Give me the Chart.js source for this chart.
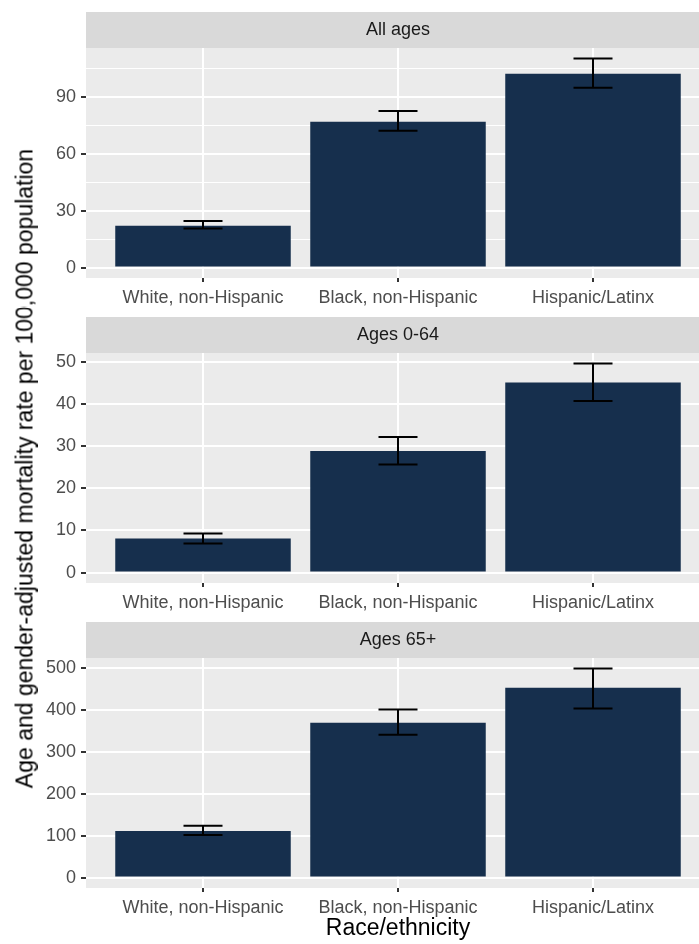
<!DOCTYPE html>
<html lang="en">
<head>
  <meta charset="UTF-8" />
  <title>Mortality rate by race/ethnicity</title>
  <script src="https://cdn.jsdelivr.net/npm/chart.js"></script>
  <style>
    html, body {
      margin: 0;
      padding: 0;
      width: 699px;
      height: 944px;
      overflow: hidden;
      background: #ffffff;
      font-family: 'Liberation Sans', Arial, sans-serif;
    }
    .panel {
      position: absolute;
      left: 0;
      width: 710px;
    }
    #ytitle {
      position: absolute;
      left: -325px;
      top: 457px;
      width: 700px;
      height: 23px;
      line-height: 23px;
      font-size: 23px;
      text-align: center;
      color: #000;
      white-space: nowrap;
      transform: rotate(-90deg);
    }
  </style>
</head>
<body>
  <div class="panel" style="top:12px;height:298px"><canvas id="c1"></canvas></div>
  <div class="panel" style="top:317px;height:298px"><canvas id="c2"></canvas></div>
  <div class="panel" style="top:622px;height:322px"><canvas id="c3"></canvas></div>
  <div id="ytitle">Age and gender-adjusted mortality rate per 100,000 population</div>

  <script>
    const categories = ['White, non-Hispanic', 'Black, non-Hispanic', 'Hispanic/Latinx'];
    const facets = ['All ages', 'Ages 0-64', 'Ages 65+'];

    // rates with lower / upper error bar ends
    const rateAll = [22.1, 76.9, 102.2];
    const lowAll = [20.6, 72.2, 94.9];
    const highAll = [24.5, 82.6, 110.3];

    const rate064 = [8.1, 28.9, 45.2];
    const low064 = [6.9, 25.7, 40.8];
    const high064 = [9.3, 32.2, 49.7];

    const rate65 = [111.5, 370, 453.7];
    const low65 = [102, 341.5, 404.5];
    const high65 = [124, 402, 500];

    const ticksAll = [0, 30, 60, 90];
    const ticks064 = [0, 10, 20, 30, 40, 50];
    const ticks65 = [0, 100, 200, 300, 400, 500];

    const xTitle = 'Race/ethnicity';

    Chart.defaults.font.family = "'Liberation Sans', Arial, sans-serif";
    const STRIP = 36;

    const panelPlugin = {
      id: 'panel',
      beforeDraw(chart) {
        const { ctx, chartArea: a } = chart;
        ctx.save();
        ctx.fillStyle = '#EBEBEB';
        ctx.fillRect(a.left, a.top, a.right - a.left, a.bottom - a.top);
        ctx.fillStyle = '#D9D9D9';
        ctx.fillRect(a.left, a.top - STRIP, a.right - a.left, STRIP);
        ctx.restore();
      },
      afterDatasetsDraw(chart, args, opts) {
        const { ctx } = chart;
        const xs = chart.scales.x, ys = chart.scales.y;
        const half = xs.getPixelForValue(0.1) - xs.getPixelForValue(0);
        ctx.save();
        ctx.strokeStyle = '#000';
        ctx.lineWidth = 2;
        opts.low.forEach((lo, i) => {
          const x = xs.getPixelForValue(i);
          const y1 = ys.getPixelForValue(lo);
          const y2 = ys.getPixelForValue(opts.high[i]);
          ctx.beginPath();
          ctx.moveTo(x, y1); ctx.lineTo(x, y2);
          ctx.moveTo(x - half, y1); ctx.lineTo(x + half, y1);
          ctx.moveTo(x - half, y2); ctx.lineTo(x + half, y2);
          ctx.stroke();
        });
        ctx.restore();
      }
    };

    function makePanel(id, facet, rate, low, high, majors, xHeight, showTitle) {
      const top = Math.max(...high);
      const yMin = -top * 0.05, yMax = top * 1.05;
      const step = majors[1] - majors[0];
      const grid = [];
      for (let v = 0; v <= yMax; v += step / 2) grid.push(v);

      return new Chart(document.getElementById(id), {
        type: 'bar',
        data: {
          datasets: [{
            data: rate.map((v, i) => ({ x: i, y: v })),
            backgroundColor: '#162F4D',
            borderWidth: 0,
            barPercentage: 0.9,
            categoryPercentage: 1
          }]
        },
        options: {
          responsive: true,
          maintainAspectRatio: false,
          animation: false,
          events: [],
          layout: { padding: 0 },
          plugins: {
            legend: { display: false },
            tooltip: { enabled: false },
            title: {
              display: true,
              text: facet,
              fullSize: false,
              color: '#1A1A1A',
              font: { size: 18, weight: 'normal' },
              padding: { top: 7.2, bottom: 7.2 }
            },
            panel: { low: low, high: high }
          },
          scales: {
            x: {
              type: 'linear',
              min: -0.6,
              max: 2.6,
              offset: false,
              afterBuildTicks: s => { s.ticks = categories.map((c, i) => ({ value: i })); },
              afterFit: s => { s.height = xHeight; },
              border: { display: false },
              grid: { offset: false, color: '#FFFFFF', lineWidth: 2, tickColor: '#333333', tickLength: 4 },
              ticks: {
                autoSkip: false,
                maxRotation: 0,
                padding: 5,
                color: '#4D4D4D',
                font: { size: 18 },
                callback: v => categories[v]
              },
              title: {
                display: showTitle,
                text: xTitle,
                color: '#000000',
                font: { size: 23 },
                padding: { top: 0, bottom: 2 }
              }
            },
            y: {
              type: 'linear',
              min: yMin,
              max: yMax,
              afterBuildTicks: s => { s.ticks = grid.map(v => ({ value: v })); },
              afterFit: s => { s.width = 86; },
              border: { display: false },
              grid: {
                color: '#FFFFFF',
                lineWidth: c => majors.includes(c.tick.value) ? 2 : 1,
                tickColor: c => majors.includes(c.tick.value) ? '#333333' : 'rgba(0,0,0,0)',
                tickLength: 5
              },
              ticks: {
                padding: 5,
                color: '#4D4D4D',
                font: { size: 18 },
                callback: v => majors.includes(v) ? String(v) : ''
              }
            }
          }
        },
        plugins: [panelPlugin]
      });
    }

    makePanel('c1', facets[0], rateAll, lowAll, highAll, ticksAll, 32, false);
    makePanel('c2', facets[1], rate064, low064, high064, ticks064, 32, false);
    makePanel('c3', facets[2], rate65, low65, high65, ticks65, 56, true);
  </script>
</body>
</html>
